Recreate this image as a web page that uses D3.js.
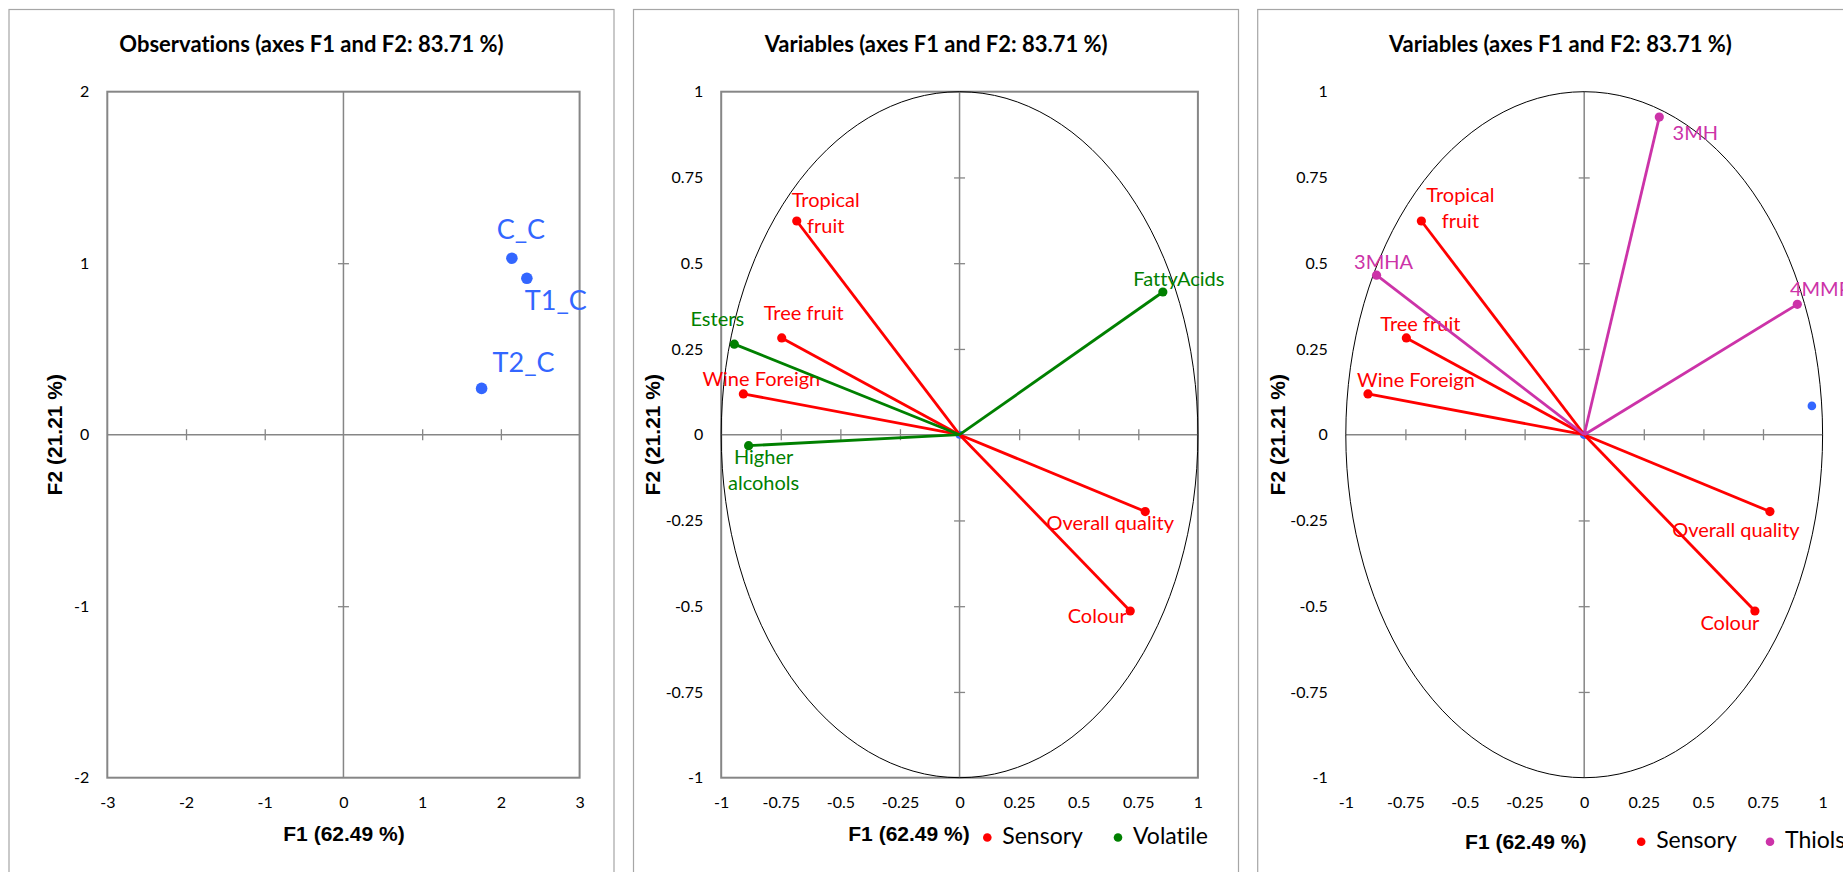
<!DOCTYPE html>
<html>
<head>
<meta charset="utf-8">
<script src="https://cdnjs.cloudflare.com/ajax/libs/d3/7.8.5/d3.min.js"></script>
<style>
  body { margin: 0; background: #fff; }
  text { font-variant-ligatures: none; }
</style>
</head>
<body>
<svg id="chart" width="1843" height="872"></svg>
<script>
// --- data ---
const obsNames = ['C_C', 'T1_C', 'T2_C'];
const obsF1 = [2.14, 2.33, 1.755];
const obsF2 = [1.029, 0.912, 0.27];

const sensoryNames = ['Tropical fruit', 'Tree fruit', 'Wine Foreign', 'Overall quality', 'Colour'];
const sensoryF1 = [-0.683, -0.746, -0.907, 0.779, 0.716];
const sensoryF2 = [0.623, 0.282, 0.119, -0.224, -0.514];

const volatileNames = ['Esters', 'Higher alcohols', 'FattyAcids'];
const volatileF1 = [-0.945, -0.885, 0.853];
const volatileF2 = [0.264, -0.032, 0.416];

const thiolNames = ['3MH', '3MHA', '4MMP'];
const thiolF1 = [0.315, -0.871, 0.894];
const thiolF2 = [0.926, 0.465, 0.38];

// stray observation points left on the right-hand plot
const strayF1 = [0, 0.955];
const strayF2 = [0, 0.084];

const obsXTicks = [-3, -2, -1, 0, 1, 2, 3];
const obsYTicks = [-2, -1, 0, 1, 2];
const varTicks = [-1, -0.75, -0.5, -0.25, 0, 0.25, 0.5, 0.75, 1];

const legend2 = ['Sensory', 'Volatile'];
const legend3 = ['Sensory', 'Thiols'];

// --- styles ---
const COLORS = { obs: '#3366FF', Sensory: '#FF0000', Volatile: '#008000', Thiols: '#CC33A8' };
const LABEL_FONT = 'Lato, "Open Sans", sans-serif';
const AXIS_FONT = '"Liberation Sans", Arial, sans-serif';
const GRID = '#868686';

// label offsets (dx, dy of first baseline) relative to each point
const placeObs = { 'C_C': [9, -19], 'T1_C': [29, 32], 'T2_C': [42, -16] };
const place2 = {
    'Tropical fruit': [29, -14], 'Tree fruit': [22, -18], 'Wine Foreign': [18, -8],
    'Overall quality': [-35, 18], 'Colour': [-33, 12],
    'Esters': [-17, -18], 'Higher alcohols': [15, 18], 'FattyAcids': [16, -6]
};
const place3 = {
    'Tropical fruit': [39, -19], 'Tree fruit': [14, -7], 'Wine Foreign': [48, -7],
    'Overall quality': [-34, 25], 'Colour': [-25, 19],
    '3MH': [36, 23], '3MHA': [7, -6], '4MMP': [23, -8]
};
const split2 = { 'Tropical fruit': ['Tropical', 'fruit'], 'Higher alcohols': ['Higher', 'alcohols'] };
const split3 = { 'Tropical fruit': ['Tropical', 'fruit'] };

const svg = d3.select('#chart');
svg.append('rect').attr('width', 1843).attr('height', 872).attr('fill', '#fff');

/**
 * Draw panel frame, plot box, zero axes, ticks and titles; returns scales
 */
function drawPanel(cfg) {
    const g = svg.append('g');
    const { l, r, t, b } = cfg.plot;

    g.append('rect')
        .attr('x', cfg.frameX).attr('y', 9.5)
        .attr('width', 605).attr('height', 900)
        .attr('fill', 'none').attr('stroke', '#a6a6a6').attr('stroke-width', 1.2);

    const x = d3.scaleLinear().domain(cfg.xDom).range([l, r]);
    const y = d3.scaleLinear().domain(cfg.yDom).range([b, t]);

    if (cfg.box) {
        g.append('rect')
            .attr('x', l).attr('y', t).attr('width', r - l).attr('height', b - t)
            .attr('fill', 'none').attr('stroke', GRID).attr('stroke-width', 2);
    }

    // zero lines
    g.append('line').attr('x1', l).attr('x2', r).attr('y1', y(0)).attr('y2', y(0))
        .attr('stroke', GRID).attr('stroke-width', 1.5);
    g.append('line').attr('x1', x(0)).attr('x2', x(0)).attr('y1', t).attr('y2', b)
        .attr('stroke', GRID).attr('stroke-width', 1.5);

    // crossing tick marks on the zero lines
    const inner = cfg.xTicks.filter(v => v !== 0 && v !== cfg.xDom[0] && v !== cfg.xDom[1]);
    const innerY = cfg.yTicks.filter(v => v !== 0 && v !== cfg.yDom[0] && v !== cfg.yDom[1]);
    const tx = g.append('g').attr('transform', `translate(0,${y(0) - 5.5})`)
        .call(d3.axisBottom(x).tickValues(inner).tickSize(11).tickFormat(''));
    const ty = g.append('g').attr('transform', `translate(${x(0) + 5.5},0)`)
        .call(d3.axisLeft(y).tickValues(innerY).tickSize(11).tickFormat(''));
    [tx, ty].forEach(a => {
        a.select('.domain').remove();
        a.selectAll('line').attr('stroke', GRID).attr('stroke-width', 1.3);
    });

    // tick labels
    const lx = g.append('g').attr('transform', `translate(0,${b})`)
        .call(d3.axisBottom(x).tickValues(cfg.xTicks).tickSize(0).tickPadding(19).tickFormat(d => String(d)));
    const ly = g.append('g').attr('transform', `translate(${l},0)`)
        .call(d3.axisLeft(y).tickValues(cfg.yTicks).tickSize(0).tickPadding(18).tickFormat(d => String(d)));
    [lx, ly].forEach(a => {
        a.select('.domain').remove();
        a.selectAll('text').attr('font-family', LABEL_FONT).attr('font-size', 16).attr('fill', '#000');
    });

    // titles
    g.append('text')
        .attr('x', cfg.titleX).attr('y', 52)
        .attr('text-anchor', 'middle')
        .attr('font-family', LABEL_FONT).attr('font-weight', 'bold').attr('font-size', 22)
        .text(cfg.title);

    g.append('text')
        .attr('x', cfg.xTitle[0]).attr('y', cfg.xTitle[1])
        .attr('text-anchor', 'middle')
        .attr('font-family', AXIS_FONT).attr('font-weight', 'bold').attr('font-size', 21)
        .text('F1 (62.49 %)');

    g.append('text')
        .attr('transform', `translate(${cfg.yTitleX},${(t + b) / 2}) rotate(-90)`)
        .attr('text-anchor', 'middle')
        .attr('font-family', AXIS_FONT).attr('font-weight', 'bold').attr('font-size', 21)
        .text('F2 (21.21 %)');

    if (cfg.circle) {
        g.append('ellipse')
            .attr('cx', x(0)).attr('cy', y(0))
            .attr('rx', x(1) - x(0)).attr('ry', y(0) - y(1))
            .attr('fill', 'none').attr('stroke', '#000').attr('stroke-width', 1);
    }

    return { g, x, y };
}

function zipPoints(names, f1, f2) {
    return names.map((name, i) => ({ name, f1: f1[i], f2: f2[i] }));
}

/**
 * Draw vectors from the origin to each variable, with dot and label
 */
function drawVectors(p, names, f1, f2, color, place, split) {
    const data = zipPoints(names, f1, f2);
    const { g, x, y } = p;

    g.selectAll(null).data(data).join('line')
        .attr('x1', x(0)).attr('y1', y(0))
        .attr('x2', d => x(d.f1)).attr('y2', d => y(d.f2))
        .attr('stroke', color).attr('stroke-width', 2.8);

    g.selectAll(null).data(data).join('circle')
        .attr('cx', d => x(d.f1)).attr('cy', d => y(d.f2))
        .attr('r', 4.6).attr('fill', color);

    drawLabels(g, x, y, data, color, place, split, 20);
}

function drawLabels(g, x, y, data, color, place, split, size) {
    const labels = g.selectAll(null).data(data).join('text')
        .attr('x', d => x(d.f1) + place[d.name][0])
        .attr('y', d => y(d.f2) + place[d.name][1])
        .attr('text-anchor', 'middle')
        .attr('font-family', LABEL_FONT).attr('font-size', size)
        .attr('fill', color);

    labels.each(function (d) {
        const lines = split[d.name] || [d.name];
        const el = d3.select(this);
        lines.forEach((s, i) => {
            el.append('tspan')
                .attr('x', x(d.f1) + place[d.name][0])
                .attr('dy', i === 0 ? 0 : 26)
                .text(s);
        });
    });
}

function drawLegend(g, items, pos, baseline) {
    items.forEach((name, i) => {
        g.append('circle')
            .attr('cx', pos[i]).attr('cy', baseline - 6.5)
            .attr('r', 4.3).attr('fill', COLORS[name]);
        g.append('text')
            .attr('x', pos[i] + 15).attr('y', baseline)
            .attr('font-family', LABEL_FONT).attr('font-size', 23)
            .attr('fill', '#000')
            .text(name);
    });
}

// --- panel 1: observations ---
const p1 = drawPanel({
    frameX: 9, plot: { l: 107.3, r: 579.6, t: 91.7, b: 777.7 }, box: true,
    xDom: [-3, 3], yDom: [-2, 2], xTicks: obsXTicks, yTicks: obsYTicks,
    title: 'Observations (axes F1 and F2: 83.71 %)', titleX: 311.5,
    xTitle: [344, 840.7], yTitleX: 62
});
const obsData = zipPoints(obsNames, obsF1, obsF2);
p1.g.selectAll(null).data(obsData).join('circle')
    .attr('cx', d => p1.x(d.f1)).attr('cy', d => p1.y(d.f2))
    .attr('r', 5.8).attr('fill', COLORS.obs);
drawLabels(p1.g, p1.x, p1.y, obsData, COLORS.obs, placeObs, {}, 27);

// --- panel 2: sensory + volatile ---
const p2 = drawPanel({
    frameX: 633.5, plot: { l: 721.2, r: 1197.9, t: 91.7, b: 777.7 }, box: true,
    xDom: [-1, 1], yDom: [-1, 1], xTicks: varTicks, yTicks: varTicks, circle: true,
    title: 'Variables (axes F1 and F2: 83.71 %)', titleX: 936.2,
    xTitle: [909, 840.7], yTitleX: 659.6
});
p2.g.append('circle').attr('cx', p2.x(strayF1[0])).attr('cy', p2.y(strayF2[0]))
    .attr('r', 4).attr('fill', COLORS.obs);
drawVectors(p2, sensoryNames, sensoryF1, sensoryF2, COLORS.Sensory, place2, split2);
drawVectors(p2, volatileNames, volatileF1, volatileF2, COLORS.Volatile, place2, split2);
drawLegend(p2.g, legend2, [987.3, 1118], 844);

// --- panel 3: sensory + thiols (cut off at the right edge, as in the source) ---
const p3 = drawPanel({
    frameX: 1257.7, plot: { l: 1345.8, r: 1822.6, t: 91.7, b: 777.7 }, box: false,
    xDom: [-1, 1], yDom: [-1, 1], xTicks: varTicks, yTicks: varTicks, circle: true,
    title: 'Variables (axes F1 and F2: 83.71 %)', titleX: 1560.4,
    xTitle: [1525.8, 849.3], yTitleX: 1285
});
p3.g.selectAll(null).data(zipPoints(['a', 'b'], strayF1, strayF2)).join('circle')
    .attr('cx', d => p3.x(d.f1)).attr('cy', d => p3.y(d.f2))
    .attr('r', 4.3).attr('fill', COLORS.obs);
drawVectors(p3, sensoryNames, sensoryF1, sensoryF2, COLORS.Sensory, place3, split3);
drawVectors(p3, thiolNames, thiolF1, thiolF2, COLORS.Thiols, place3, split3);
drawLegend(p3.g, legend3, [1641.2, 1770], 848.3);
</script>
</body>
</html>
